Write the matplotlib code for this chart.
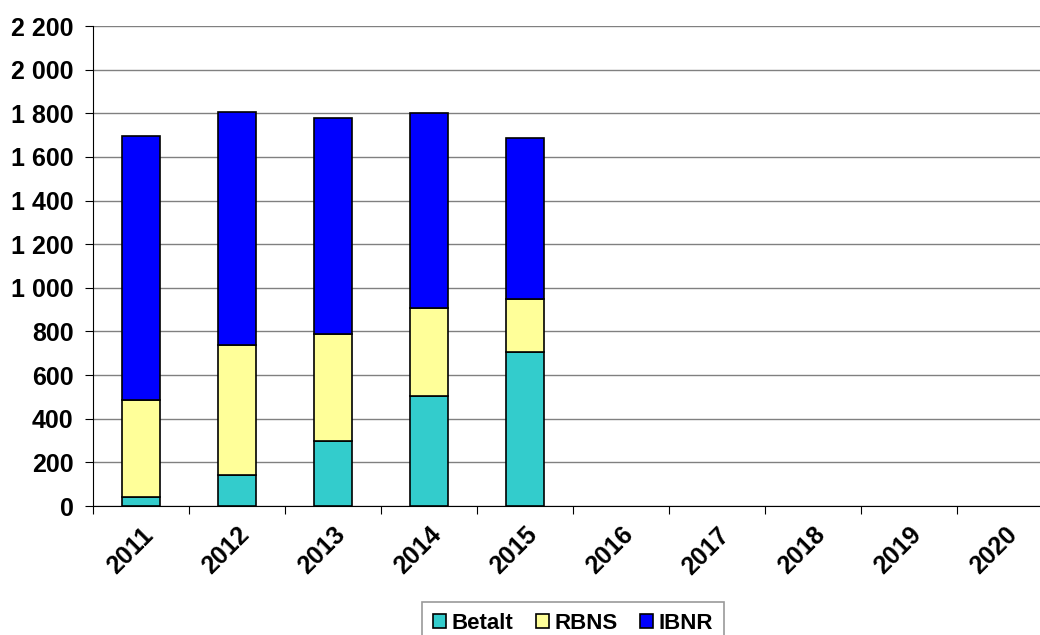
import numpy as np
import matplotlib
matplotlib.use("Agg")
import matplotlib.pyplot as plt
from matplotlib.ticker import FuncFormatter

# ── Data ───────────────────────────────────────────────────────
years = ["2011", "2012", "2013", "2014", "2015", "2016", "2017", "2018", "2019", "2020"]
betalt = [41, 142, 296, 504, 707, 0, 0, 0, 0, 0]
rbns = [446, 596, 491, 402, 244, 0, 0, 0, 0, 0]
ibnr = [1210, 1068, 993, 897, 734, 0, 0, 0, 0, 0]

series_names = ["Betalt", "RBNS", "IBNR"]
colors = ["#33CCCC", "#FFFF99", "#0000FF"]

plt.rcParams["font.family"] = ["Liberation Sans", "DejaVu Sans"]
plt.rcParams["font.weight"] = "bold"

fig = plt.figure(figsize=(10.4, 6.35), dpi=100)
ax = fig.add_axes([93 / 1040, 1 - 506 / 635, 960 / 1040, 480 / 635])

x = np.arange(len(years))
b = np.array(betalt)
r = np.array(rbns)
i = np.array(ibnr)

# only draw the years that have data
has = (b + r + i) > 0
ax.bar(x[has], b[has], width=0.4, color=colors[0], edgecolor="black", lw=1.2,
       label=series_names[0], zorder=3)
ax.bar(x[has], r[has], width=0.4, bottom=b[has], color=colors[1], edgecolor="black",
       lw=1.2, label=series_names[1], zorder=3)
ax.bar(x[has], i[has], width=0.4, bottom=(b + r)[has], color=colors[2],
       edgecolor="black", lw=1.2, label=series_names[2], zorder=3)

ax.set_xlim(-0.5, len(years) - 0.5)
ax.set_ylim(0, 2200)
ax.set_yticks(np.arange(0, 2201, 200))
ax.yaxis.set_major_formatter(FuncFormatter(lambda v, p: f"{int(v):,}".replace(",", " ")))
ax.grid(axis="y", color="#808080", lw=1, zorder=0)

ax.set_xticks(np.arange(-0.5, len(years), 1), minor=False)
ax.set_xticklabels([])
ax.set_xticks(x, minor=True)
ax.set_xticklabels(years, minor=True, rotation=45, ha="right", va="top",
                   rotation_mode="anchor", fontsize=18, fontweight="bold")
ax.tick_params(axis="x", which="minor", length=0, pad=12)
ax.tick_params(axis="x", which="major", length=6, direction="out", color="black")
ax.tick_params(axis="y", length=6, direction="out", labelsize=18, pad=8)

for s in ["top", "right"]:
    ax.spines[s].set_visible(False)
ax.spines["left"].set_color("black")
ax.spines["bottom"].set_color("black")

leg = fig.legend(loc="center", bbox_to_anchor=(0.551, 0.018), ncol=3, fontsize=16,
                 frameon=True, fancybox=False, edgecolor="#808080", handlelength=0.6,
                 handleheight=0.6, handletextpad=0.25, columnspacing=1.0,
                 borderpad=0.5)
leg.get_frame().set_linewidth(1.2)

fig.savefig("out.png", dpi=100)
